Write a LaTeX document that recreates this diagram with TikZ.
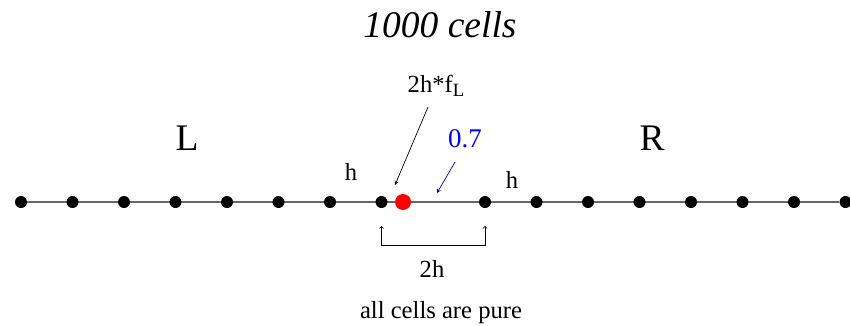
\documentclass[tikz,border=0pt]{standalone}
\usepackage{fontspec}
\setmainfont{Liberation Serif}
\usetikzlibrary{arrows,positioning,backgrounds}

\begin{document}
\begin{tikzpicture}[x=0.03cm,y=-0.03cm,
    cell/.style={circle,fill=black,inner sep=0pt,minimum size=0.36cm},
    mixcell/.style={circle,fill=red,inner sep=0pt,minimum size=0.48cm},
    lbl/.style={inner sep=0pt,anchor=base,font=\fontsize{21}{24}\selectfont}]
  \useasboundingbox (0,0) rectangle (850,325);
  % title and sides
  \node[lbl,font=\fontsize{32}{36}\selectfont\itshape] (title) at (440,37) {1000 cells};
  \node[lbl,font=\fontsize{32}{36}\selectfont] (left) at (187,150) {L};
  \node[lbl,font=\fontsize{32}{36}\selectfont] (right) at (652,150) {R};
  % the cells
  \foreach \i in {1,...,8} \node[cell] (l\i) at ({21+51.5*(\i-1)},202) {};
  \foreach \i in {1,...,8} \node[cell] (r\i) at ({485+51.5*(\i-1)},202) {};
  \node[mixcell] (mix) at (403,202) {};
  \begin{pgfonlayer}{background}
    \draw[black!60,line width=1.1pt] (l1) -- (r8);
  \end{pgfonlayer}
  % labels near the interface
  \node[lbl] (hl) at (351,180) {h};
  \node[lbl] (hr) at (512,188) {h};
  \node[lbl] (frac) at (436,92) {2h*f\raisebox{-4pt}{\fontsize{16}{16}\selectfont L}};
  \node[lbl,blue,font=\fontsize{23}{26}\selectfont] (val) at (465,147) {0.7};
  \coordinate (fracend) at (395,185);
  \coordinate (valend) at (437,193);
  \draw[-stealth,line width=0.6pt] (428,107) coordinate (fracstart) -- (fracend);
  \draw[-stealth,blue!80!black,line width=0.6pt] (455,162) coordinate (valstart) -- (valend);
  % the 2h bracket
  \coordinate (bl) at (l8 |- 0,245);
  \coordinate (br) at (r1 |- 0,245);
  \draw[<->,line width=0.6pt] ([yshift=-0.72cm]l8.center) -- (bl) -- (br) -- ([yshift=-0.72cm]r1.center);
  \node[lbl] (width) at (432,277) {2h};
  \node[lbl] (note) at (441,318) {all cells are pure};
\end{tikzpicture}
\end{document}
